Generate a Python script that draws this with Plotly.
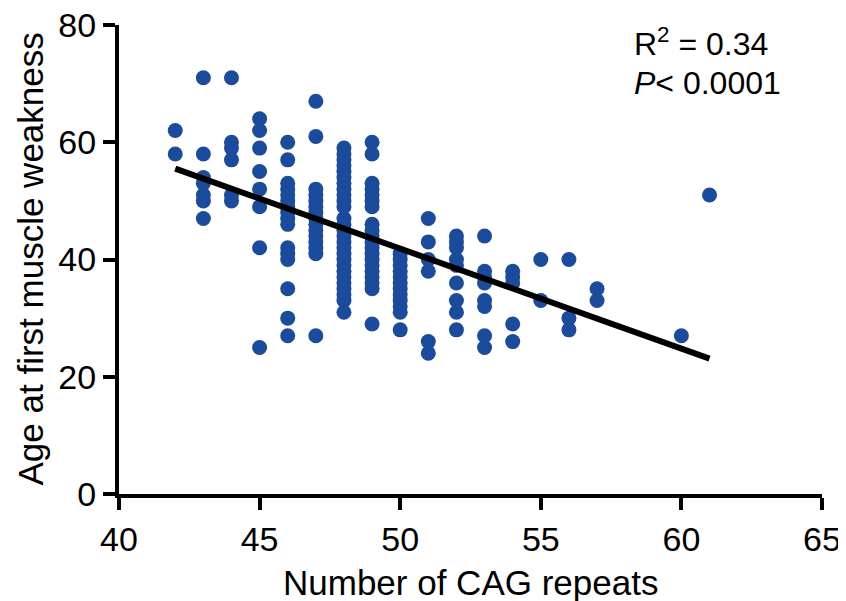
import plotly.graph_objects as go

# CAG repeat number for each subject, grouped by column
cag_values = [42, 43, 44, 45, 46, 47, 48, 49, 50, 51, 52, 53, 54, 55, 56, 57, 60, 61]
ages_by_cag = [
    [62, 58],
    [71, 58, 54, 53, 51, 50, 47],
    [71, 60, 59, 57, 51, 50],
    [64, 62, 59, 55, 52, 49, 42, 25],
    [60, 57, 53, 52, 51, 50, 49, 48, 47, 46, 42, 41, 40, 35, 30, 27],
    [67, 61, 52, 51, 50, 49, 48, 47, 46, 45, 44, 43, 42, 41, 27],
    [59, 58, 57, 56, 55, 54, 53, 52, 51, 50, 49, 47, 46, 45, 44, 43, 42, 41, 40,
     39, 38, 37, 36, 35, 34, 33, 31],
    [60, 58, 53, 52, 51, 50, 49, 46, 45, 44, 43, 42, 41, 40, 39, 38, 37, 36, 35, 29],
    [41, 40, 39, 38, 37, 36, 35, 34, 33, 32, 31, 28],
    [47, 43, 40, 38, 26, 24],
    [44, 43, 42, 40, 39, 36, 33, 31, 28],
    [44, 38, 37, 36, 33, 32, 27, 25],
    [38, 37, 36, 29, 26],
    [40, 33],
    [40, 30, 28],
    [35, 33],
    [27],
    [51],
]

# Regression line end points
fit_x = [42, 61]
fit_y = [55.5, 23.1]

x_ticks = [40, 45, 50, 55, 60, 65]
y_ticks = [0, 20, 40, 60, 80]

cag = []
age = []
for c, ages in zip(cag_values, ages_by_cag):
    for a in ages:
        cag.append(c)
        age.append(a)

FONT = "Liberation Sans, Arial, sans-serif"
BLUE = "#1a4b9c"

fig = go.Figure()
fig.add_trace(go.Scatter(
    x=cag, y=age, mode="markers",
    marker=dict(size=15, color=BLUE, line=dict(width=0)),
    showlegend=False, cliponaxis=False,
))
fig.add_trace(go.Scatter(
    x=fit_x, y=fit_y, mode="lines",
    line=dict(color="black", width=6),
    showlegend=False,
))

axis_common = dict(
    showline=True, linecolor="black", linewidth=4,
    ticks="outside", ticklen=12, tickwidth=4, tickcolor="black",
    showgrid=False, zeroline=False, automargin=False,
    ticklabeloverflow="allow",
    tickfont=dict(family=FONT, size=34, color="black"),
)

fig.update_xaxes(range=[40, 65], tickvals=x_ticks, **axis_common)
fig.update_yaxes(range=[0, 80], tickvals=y_ticks, **axis_common)

fig.add_annotation(
    text="Number of CAG repeats", xref="paper", yref="paper",
    x=0.5, y=0, xanchor="center", yanchor="middle", yshift=-88,
    showarrow=False, font=dict(family=FONT, size=35, color="black"),
)
fig.add_annotation(
    text="Age at first muscle weakness", xref="paper", yref="paper",
    x=0, y=0.5, xanchor="center", yanchor="middle", xshift=-89, textangle=-90,
    showarrow=False, font=dict(family=FONT, size=35, color="black"),
)
fig.add_annotation(
    text="R<sup>2</sup> = 0.34", xref="x", yref="y",
    x=58.25, y=77.1, xanchor="left", yanchor="middle",
    showarrow=False, font=dict(family=FONT, size=32, color="black"),
)
fig.add_annotation(
    text="<i>P</i>< 0.0001", xref="x", yref="y",
    x=58.25, y=70.1, xanchor="left", yanchor="middle",
    showarrow=False, font=dict(family=FONT, size=32, color="black"),
)

fig.update_layout(
    width=838, height=593,
    margin=dict(l=111, r=24, t=17, b=107),
    plot_bgcolor="white", paper_bgcolor="white",
)

fig.write_html("out.html")
